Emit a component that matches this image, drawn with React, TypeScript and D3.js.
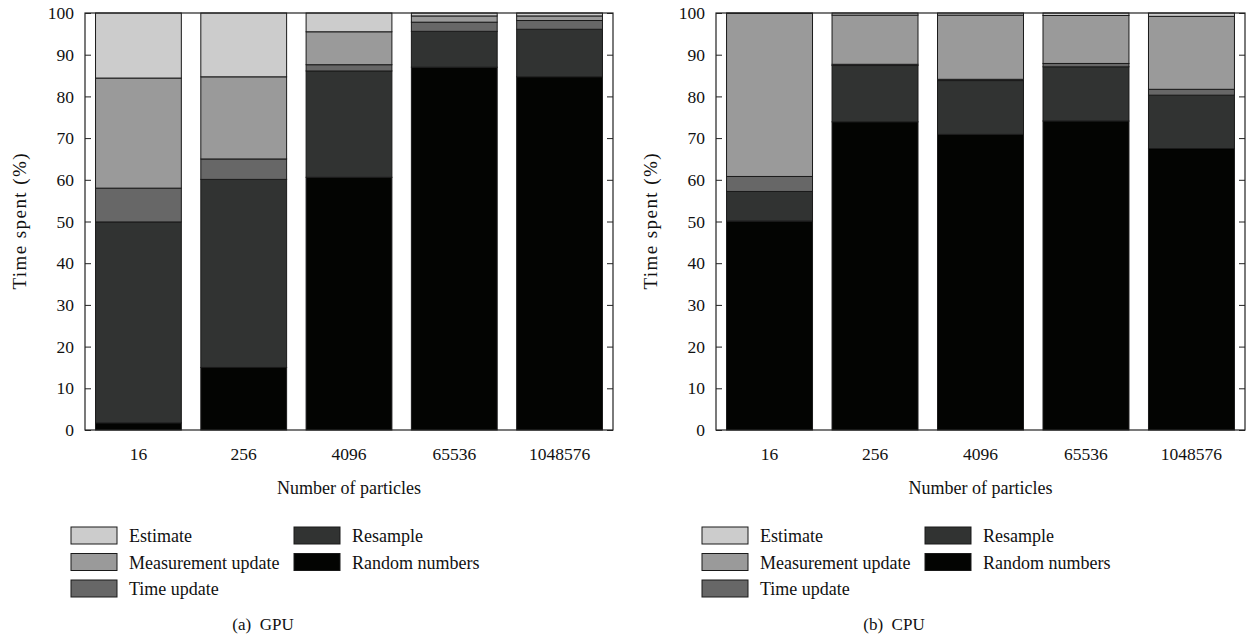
import * as d3 from 'd3'
import { useEffect, useRef } from 'react'

// particle counts on the x axis
const particles = ['16', '256', '4096', '65536', '1048576']

// stack order, bottom to top
const seriesKeys = ['Random numbers', 'Resample', 'Time update', 'Measurement update', 'Estimate']
const seriesColors = ['#030402', '#313332', '#676767', '#9a9a9a', '#cccccc']

// legend layout: first column, then second column
const legendCol1 = ['Estimate', 'Measurement update', 'Time update']
const legendCol2 = ['Resample', 'Random numbers']

// GPU time spent (%)
const gpuRandom = [1.7, 15, 60.6, 87, 84.7]
const gpuResample = [48.2, 45.1, 25.5, 8.6, 11.4]
const gpuTime = [8.1, 4.9, 1.5, 2.2, 2.1]
const gpuMeasure = [26.4, 19.7, 7.9, 1.5, 1.1]
const gpuEstimate = [15.6, 15.3, 4.5, 0.7, 0.7]

// CPU time spent (%)
const cpuRandom = [50.1, 73.9, 70.9, 74.1, 67.5]
const cpuResample = [7.1, 13.5, 12.9, 13.0, 12.8]
const cpuTime = [3.6, 0.3, 0.3, 0.8, 1.4]
const cpuMeasure = [39.1, 11.8, 15.4, 11.5, 17.5]
const cpuEstimate = [0.1, 0.5, 0.5, 0.6, 0.8]

const yTicks = [0, 10, 20, 30, 40, 50, 60, 70, 80, 90, 100]

const FONT = '"Liberation Serif", "DejaVu Serif", serif'

function buildRows(cols: number[][]) {
  return particles.map((p, i) => {
    const row: any = { particles: p }
    seriesKeys.forEach((k, j) => {
      row[k] = cols[j][i]
    })
    return row
  })
}

function drawPanel(svg: any, x0: number, x1: number, rows: any[], caption: string) {
  const top = 13
  const bottom = 430

  const x = d3.scaleBand().domain(particles).range([x0, x1]).paddingInner(0.185).paddingOuter(0.1)
  const y = d3.scaleLinear().domain([0, 100]).range([bottom, top])
  const color = d3.scaleOrdinal<string, string>().domain(seriesKeys).range(seriesColors)

  const stacked = d3.stack().keys(seriesKeys)(rows)

  const g = svg.append('g')

  // stacked bars
  g.selectAll('g.layer')
    .data(stacked)
    .enter()
    .append('g')
    .attr('fill', (d: any) => color(d.key))
    .selectAll('rect')
    .data((d: any) => d)
    .enter()
    .append('rect')
    .attr('x', (d: any) => x(d.data.particles))
    .attr('width', x.bandwidth())
    .attr('y', (d: any) => y(d[1]))
    .attr('height', (d: any) => y(d[0]) - y(d[1]))
    .attr('stroke', '#1a1a1a')
    .attr('stroke-width', 1)

  // frame
  g.append('rect')
    .attr('x', x0)
    .attr('y', top)
    .attr('width', x1 - x0)
    .attr('height', bottom - top)
    .attr('fill', 'none')
    .attr('stroke', '#222')
    .attr('stroke-width', 1.2)

  // left axis with inward ticks
  const left = g
    .append('g')
    .attr('transform', `translate(${x0},0)`)
    .call(d3.axisLeft(y).tickValues(yTicks).tickSize(-6).tickPadding(11))
  left.select('.domain').remove()
  left.selectAll('line').attr('stroke', '#222')
  left.selectAll('text').attr('font-family', FONT).attr('font-size', 17.5).attr('fill', '#111')

  // right axis ticks only
  const right = g
    .append('g')
    .attr('transform', `translate(${x1},0)`)
    .call(d3.axisRight(y).tickValues(yTicks).tickSize(-6).tickFormat(() => ''))
  right.select('.domain').remove()
  right.selectAll('line').attr('stroke', '#222')

  // x labels
  g.selectAll('text.xl')
    .data(particles)
    .enter()
    .append('text')
    .attr('x', (d: string) => (x(d) as number) + x.bandwidth() / 2)
    .attr('y', 460)
    .attr('text-anchor', 'middle')
    .attr('font-family', FONT)
    .attr('font-size', 17.5)
    .attr('fill', '#111')
    .text((d: string) => d)

  g.append('text')
    .attr('x', (x0 + x1) / 2)
    .attr('y', 494)
    .attr('text-anchor', 'middle')
    .attr('font-family', FONT)
    .attr('font-size', 18)
    .attr('fill', '#111')
    .text('Number of particles')

  g.append('text')
    .attr('transform', `translate(${x0 - 59},${(top + bottom) / 2}) rotate(-90)`)
    .attr('text-anchor', 'middle')
    .attr('font-family', FONT)
    .attr('font-size', 19)
    .attr('textLength', 136)
    .attr('lengthAdjust', 'spacing')
    .attr('fill', '#111')
    .text('Time spent (%)')

  // legend
  const legendItems = [
    ...legendCol1.map((k, i) => ({ k, col: 0, row: i })),
    ...legendCol2.map((k, i) => ({ k, col: 1, row: i })),
  ]
  const lg = g
    .selectAll('g.leg')
    .data(legendItems)
    .enter()
    .append('g')
    .attr('transform', (d: any) => `translate(${x0 - 14 + d.col * 223},${527 + d.row * 26.5})`)
  lg.append('rect')
    .attr('width', 46)
    .attr('height', 17)
    .attr('fill', (d: any) => color(d.k))
    .attr('stroke', '#1a1a1a')
    .attr('stroke-width', 1)
  lg.append('text')
    .attr('x', 58)
    .attr('y', 15)
    .attr('font-family', FONT)
    .attr('font-size', 18)
    .attr('fill', '#111')
    .text((d: any) => d.k)

  g.append('text')
    .attr('x', x0 + 178)
    .attr('y', 630)
    .attr('text-anchor', 'middle')
    .attr('font-family', FONT)
    .attr('font-size', 17)
    .attr('fill', '#111')
    .attr('xml:space', 'preserve')
    .text(caption)
}

const App = () => {
  const svgRef = useRef<SVGSVGElement>(null)

  useEffect(() => {
    const svg = d3.select(svgRef.current)
    svg.selectAll('*').remove()

    drawPanel(svg, 85, 613, buildRows([gpuRandom, gpuResample, gpuTime, gpuMeasure, gpuEstimate]), '(a)  GPU')
    drawPanel(svg, 716, 1245, buildRows([cpuRandom, cpuResample, cpuTime, cpuMeasure, cpuEstimate]), '(b)  CPU')
  }, [])

  return (
    <svg
      ref={svgRef}
      width={1251}
      height={640}
      style={{ position: 'absolute', left: 0, top: 0, background: '#fff' }}
    ></svg>
  )
}

export default App
